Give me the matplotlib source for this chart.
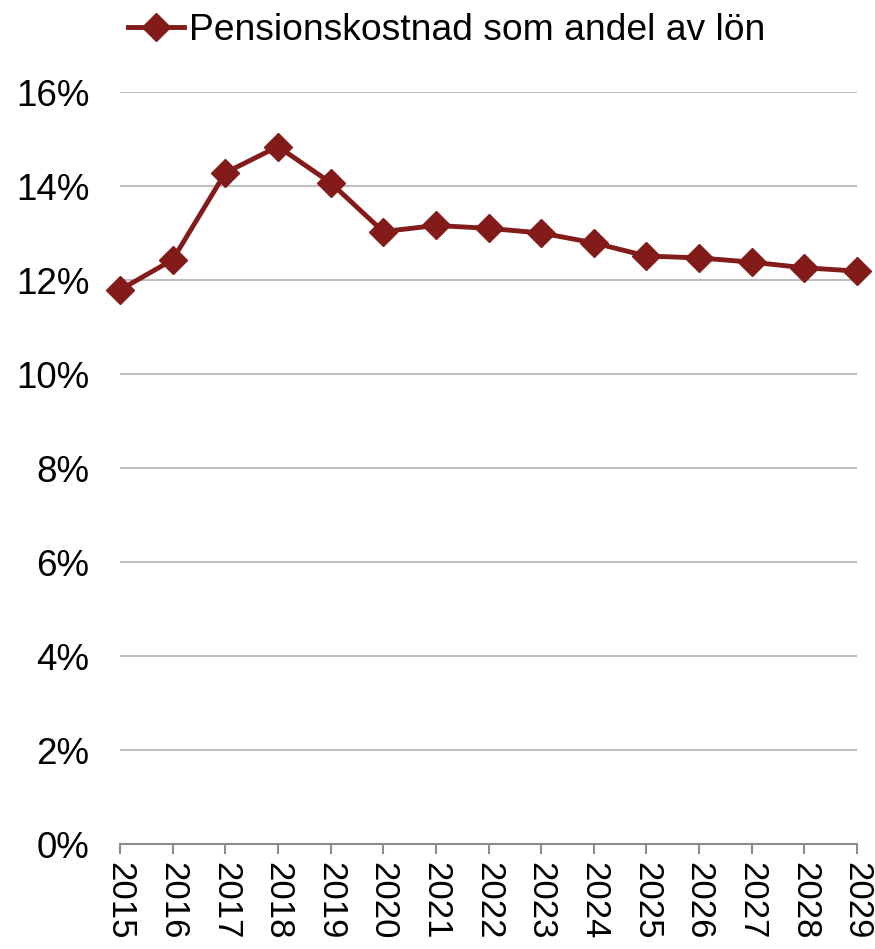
import matplotlib
matplotlib.use("Agg")
import matplotlib.pyplot as plt
from matplotlib.ticker import FuncFormatter

plt.rcParams['font.family'] = ['Liberation Sans', 'DejaVu Sans']

years = [2015, 2016, 2017, 2018, 2019, 2020, 2021, 2022,
         2023, 2024, 2025, 2026, 2027, 2028, 2029]
pension_share = [11.79, 12.43, 14.28, 14.84, 14.07, 13.03, 13.16, 13.10,
                 13.00, 12.79, 12.51, 12.47, 12.38, 12.26, 12.19]
y_ticks = [0, 2, 4, 6, 8, 10, 12, 14, 16]
series_label = "Pensionskostnad som andel av lön"

line_color = "#841b1b"
grid_color = "#bfbfbf"
axis_color = "#8c8c8c"

fig = plt.figure(figsize=(8.75, 9.49), dpi=100)
ax = fig.add_axes([120 / 875, 1 - 844 / 949, (857 - 120) / 875, (844 - 92) / 949])

ax.plot(years, pension_share, color=line_color, linewidth=3.5, marker="D",
        markersize=14.5, label=series_label, clip_on=False, zorder=3)

ax.set_xlim(years[0], years[-1])
ax.set_ylim(0, 16)
ax.set_yticks(y_ticks)
ax.yaxis.set_major_formatter(FuncFormatter(lambda v, p: "%d%%" % v))
ax.set_xticks(years)
ax.set_xticklabels([str(y) for y in years], rotation=270, va="top", ha="center")

ax.grid(axis="y", color=grid_color, linewidth=1.5)
ax.set_axisbelow(True)
for side in ["top", "right", "left"]:
    ax.spines[side].set_visible(False)
ax.spines["bottom"].set_color(axis_color)
ax.spines["bottom"].set_linewidth(1.5)

ax.tick_params(axis="y", length=0, pad=22, labelsize=26.5)
# year labels sized so they stay inside the bottom edge
ax.tick_params(axis="x", length=7, width=1.5, color=axis_color, pad=6, labelsize=25)

fig.legend(loc="center left", bbox_to_anchor=(128 / 875, 1 - 31 / 949),
           frameon=False, fontsize=26.8, handlelength=1.5, handletextpad=0.15,
           borderpad=0, borderaxespad=0)

fig.savefig("out.png", dpi=100)
